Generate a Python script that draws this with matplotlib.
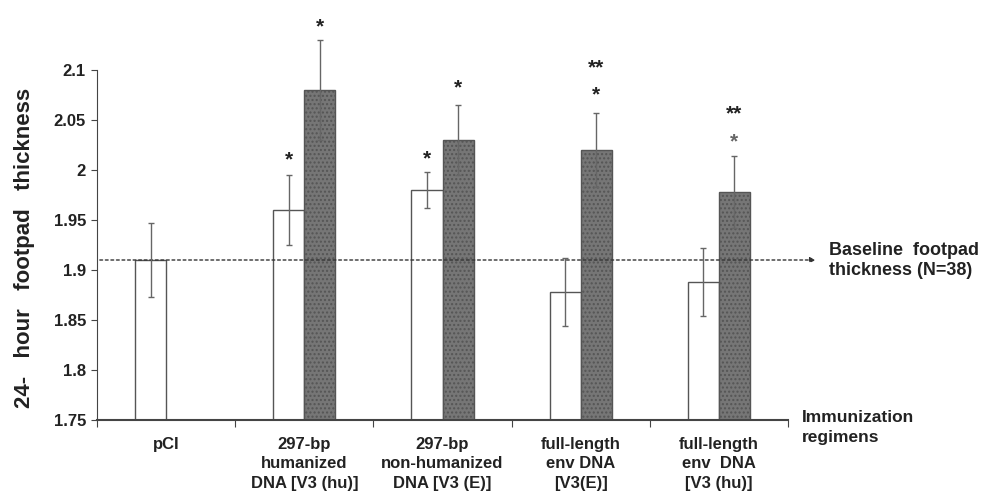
import numpy as np
import matplotlib
matplotlib.use("Agg")
import matplotlib.pyplot as plt

plt.rcParams["font.family"] = ["Liberation Sans", "DejaVu Sans"]
plt.rcParams["font.weight"] = "bold"
plt.rcParams["hatch.color"] = "#5e5e5e"

categories = ["pCI", "297-bp\nhumanized\nDNA [V3 (hu)]", "297-bp\nnon-humanized\nDNA [V3 (E)]",
              "full-length\nenv DNA\n[V3(E)]", "full-length\nenv  DNA\n[V3 (hu)]"]
white_vals = [1.91, 1.96, 1.98, 1.878, 1.888]
white_err = [0.037, 0.035, 0.018, 0.034, 0.034]
gray_vals = [None, 2.08, 2.03, 2.02, 1.978]
gray_err = [None, 0.05, 0.035, 0.037, 0.036]
# significance marks: (text, y) per bar
white_marks = [None, ("*", 2.010), ("*", 2.011), None, None]
gray_marks = [None, ("*", 2.143), ("*", 2.082), ("*", 2.075), ("*", 2.028)]
gray_extra = [None, None, None, ("**", 2.102), ("**", 2.056)]
baseline = 1.91

fig = plt.figure(figsize=(9.85, 5), dpi=100)
ax = fig.add_axes([0.0985, 0.16, 0.7015, 0.84])

w = 0.225
edge = "#555555"
for i in range(len(categories)):
    c = i + 0.5
    ax.bar(c - w / 2, white_vals[i] - 1.75, w, bottom=1.75, color="white",
           edgecolor=edge, linewidth=1.0, zorder=2)
    ax.errorbar(c - w / 2, white_vals[i], yerr=white_err[i], fmt="none",
                ecolor="#666666", elinewidth=1.0, capsize=2, capthick=1.0, zorder=4)
    if white_marks[i]:
        ax.text(c - w / 2, white_marks[i][1], white_marks[i][0],
                ha="center", va="center", fontsize=15, color="#222222")
    if gray_vals[i] is None:
        continue
    ax.bar(c + w / 2, gray_vals[i] - 1.75, w, bottom=1.75, color="#767676",
           edgecolor=edge, linewidth=1.0, hatch="....", zorder=2)
    ax.errorbar(c + w / 2, gray_vals[i], yerr=gray_err[i], fmt="none",
                ecolor="#666666", elinewidth=1.0, capsize=2, capthick=1.0,
                zorder=4, clip_on=False)
    ax.text(c + w / 2, gray_marks[i][1], gray_marks[i][0],
            ha="center", va="center", fontsize=15,
            color="#222222" if i < 4 else "#666666")
    if gray_extra[i]:
        ax.text(c + w / 2, gray_extra[i][1], gray_extra[i][0],
                ha="center", va="center", fontsize=15, color="#222222")

# dotted baseline with arrow past the axis end
ax.annotate("", xy=(5.22, baseline), xytext=(0, baseline),
            arrowprops=dict(arrowstyle="-|>", linestyle=(0, (2, 2)), color="#333333",
                            lw=1.0, mutation_scale=8), annotation_clip=False)
ax.text(5.3, baseline - 0.0005, "Baseline  footpad\nthickness (N=38)", ha="left",
        va="center", fontsize=13, color="#222222", linespacing=1.3)
ax.text(5.1, 1.7595, "Immunization\nregimens", ha="left", va="top",
        fontsize=12.5, color="#222222", linespacing=1.35)

ax.set_xlim(0, 5)
ax.set_ylim(1.75, 2.17)
ax.set_yticks([1.75, 1.8, 1.85, 1.9, 1.95, 2.0, 2.05, 2.1])
ax.set_yticklabels(["1.75", "1.8", "1.85", "1.9", "1.95", "2", "2.05", "2.1"])
ax.set_xticks(np.arange(0, 6))
ax.set_xticklabels([])
ax.set_xticks(np.arange(5) + 0.5, minor=True)
ax.set_xticklabels(categories, minor=True, fontsize=12, color="#222222",
                   linespacing=1.4, va="top")
ax.tick_params(axis="x", which="minor", length=0, pad=12)
ax.tick_params(axis="x", which="major", length=5, direction="out", color="#444444")
ax.tick_params(axis="y", length=4, direction="out", color="#444444",
               labelsize=12, labelcolor="#222222", pad=4)
for t in ax.get_yticklabels():
    t.set_fontweight("bold")

ax.spines["top"].set_visible(False)
ax.spines["right"].set_visible(False)
ax.spines["left"].set_bounds(1.75, 2.1)
ax.spines["left"].set_color("#444444")
ax.spines["bottom"].set_color("#444444")
ax.spines["bottom"].set_linewidth(1.5)

ax.set_ylabel("24-   hour   footpad   thickness", fontsize=16, color="#222222",
              fontweight="bold")
ax.yaxis.set_label_coords(-0.09, 0.41)

fig.savefig("out.png", dpi=100)
